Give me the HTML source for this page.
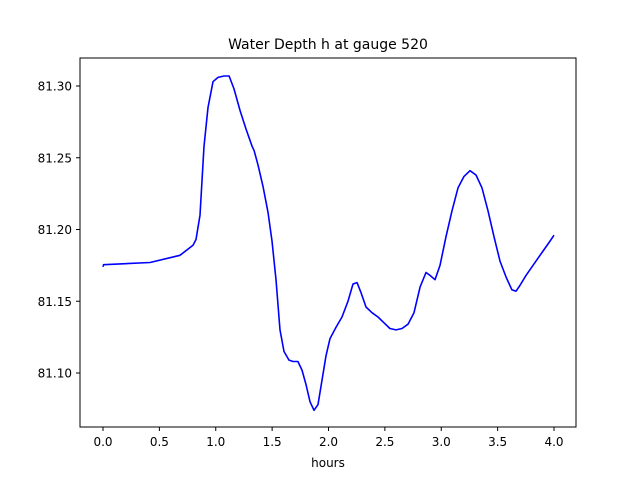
<!DOCTYPE html>
<html><head><meta charset="utf-8"><style>
body{margin:0;background:#fff;}
svg text{font-family:"DejaVu Sans","Liberation Sans",sans-serif;fill:#000;}
</style></head><body>
<svg id="chart" width="640" height="480" xmlns="http://www.w3.org/2000/svg">
<rect width="640" height="480" fill="#fff"/>
<text x="328" y="49" font-size="14" text-anchor="middle">Water Depth h at gauge 520</text>
<g id="xt"></g><g id="yt"></g>
<path id="line" fill="none" stroke="#0000ff" stroke-width="1.6" stroke-linejoin="round"/>
<rect x="80" y="58" width="496" height="369" fill="none" stroke="#000" stroke-width="1"/>
<text x="328" y="467" font-size="12" text-anchor="middle">hours</text>
</svg>
<script>
const hours=[0,0.005,0.417,0.683,0.798,0.825,0.860,0.896,0.931,0.976,1.020,1.073,1.118,1.162,1.215,1.268,1.322,1.340,1.375,1.419,1.463,1.499,1.534,1.570,1.605,1.650,1.685,1.729,1.765,1.800,1.836,1.871,1.907,1.942,1.978,2.013,2.067,2.120,2.173,2.217,2.253,2.288,2.333,2.386,2.439,2.492,2.545,2.599,2.652,2.705,2.758,2.812,2.865,2.900,2.945,2.989,3.042,3.095,3.149,3.202,3.255,3.308,3.361,3.415,3.468,3.521,3.574,3.627,3.663,3.698,3.752,3.823,3.894,3.965,4.0];
const depth=[81.174,81.1755,81.177,81.182,81.189,81.193,81.21,81.258,81.285,81.303,81.306,81.307,81.307,81.298,81.283,81.270,81.258,81.255,81.245,81.230,81.212,81.192,81.165,81.130,81.115,81.109,81.108,81.108,81.102,81.092,81.080,81.074,81.078,81.095,81.112,81.124,81.132,81.139,81.150,81.162,81.163,81.156,81.146,81.142,81.139,81.135,81.131,81.130,81.131,81.134,81.142,81.160,81.170,81.168,81.165,81.175,81.195,81.213,81.229,81.237,81.241,81.238,81.229,81.213,81.195,81.178,81.167,81.158,81.157,81.161,81.168,81.176,81.184,81.192,81.196];
const xTicks=[0,0.5,1,1.5,2,2.5,3,3.5,4];
const yTicks=[81.10,81.15,81.20,81.25,81.30];
const X=t=>103+t*112.75;
const Y=v=>373-(v-81.10)*1435;
const NS="http://www.w3.org/2000/svg";
let d=hours.map((t,i)=>(i?'L':'M')+X(t).toFixed(1)+','+Y(depth[i]).toFixed(1)).join('');
document.getElementById('line').setAttribute('d',d);
const xt=document.getElementById('xt'),yt=document.getElementById('yt');
xTicks.forEach(t=>{
 const l=document.createElementNS(NS,'line');
 
 
 l.setAttribute('x1',X(t));l.setAttribute('x2',X(t));l.setAttribute('y1',427);l.setAttribute('y2',431);l.setAttribute('stroke','#000');
 xt.appendChild(l);
 const s=document.createElementNS(NS,'text');
 
 
 s.setAttribute('x',X(t));s.setAttribute('y',446);s.setAttribute('font-size','12');s.setAttribute('text-anchor','middle');
 s.textContent=t.toFixed(1);xt.appendChild(s);
});
yTicks.forEach(v=>{
 const l=document.createElementNS(NS,'line');
 
 
 l.setAttribute('x1',76);l.setAttribute('x2',80);l.setAttribute('y1',Y(v));l.setAttribute('y2',Y(v));l.setAttribute('stroke','#000');
 yt.appendChild(l);
 const s=document.createElementNS(NS,'text');
 
 
 s.setAttribute('x',72);s.setAttribute('y',Y(v)+4.5);s.setAttribute('font-size','12');s.setAttribute('text-anchor','end');
 s.textContent=v.toFixed(2);yt.appendChild(s);
});
</script>
</body></html>
